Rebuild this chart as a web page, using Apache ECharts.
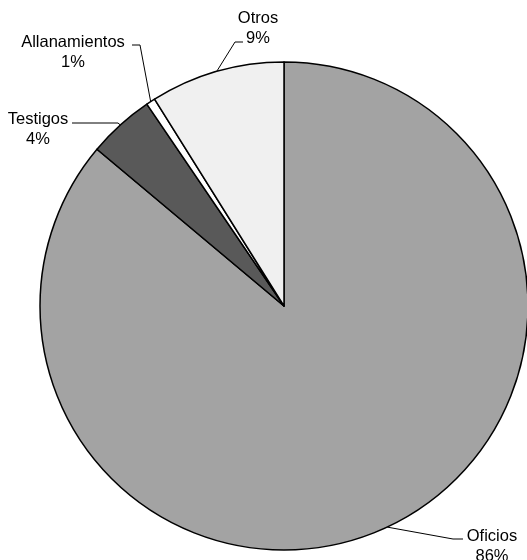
<!DOCTYPE html>
<html><head><meta charset="utf-8">
<script src="https://cdn.jsdelivr.net/npm/echarts@6/dist/echarts.min.js"></script>
<style>html,body{margin:0;padding:0;background:#fff}#c{width:527px;height:560px}</style>
</head><body><div id="c"></div>
<script>
const categories = ['Oficios', 'Testigos', 'Allanamientos', 'Otros'];
const values = [86.1, 4.4, 0.6, 8.9];
const colors = ['#a3a3a3', '#595959', '#ffffff', '#f0f0f0'];
// label placement: [centerX, top, lineEndDx, lineEndDy, elbowLength]
const labelPos = [
  [492, 527, -29, 12, -10],
  [38, 110, 34, 13, 46],
  [73, 33, 59, 12, 8],
  [258, 9, -15, 33, -8]
];

const chart = echarts.init(document.getElementById('c'), null, {renderer: 'canvas'});
chart.setOption({
  animation: false,
  backgroundColor: '#fff',
  series: [{
    type: 'pie',
    center: [284, 306],
    radius: 244,
    startAngle: 90,
    clockwise: true,
    percentPrecision: 0,
    data: categories.map((c, i) => ({name: c, value: values[i], itemStyle: {color: colors[i]}})),
    itemStyle: {borderColor: '#000', borderWidth: 1.5},
    emphasis: {disabled: true},
    label: {
      show: true,
      formatter: '{b}\n{d}%',
      fontFamily: 'Liberation Sans, Arial, sans-serif',
      fontSize: 16.5,
      lineHeight: 19.5,
      color: '#000',
      align: 'center'
    },
    labelLine: {show: true, lineStyle: {color: '#000', width: 1}, length: 10, length2: 10},
    labelLayout: function (p) {
      const pos = labelPos[p.dataIndex];
      const out = {x: pos[0], y: pos[1], align: 'center', verticalAlign: 'top'};
      if (p.labelLinePoints && p.labelLinePoints.length) {
        const a = p.labelLinePoints[0];
        const ex = pos[0] + pos[2], ey = pos[1] + pos[3];
        out.labelLinePoints = [[a[0], a[1]], [ex + pos[4], ey], [ex, ey]];
      }
      return out;
    }
  }]
});
</script></body></html>
